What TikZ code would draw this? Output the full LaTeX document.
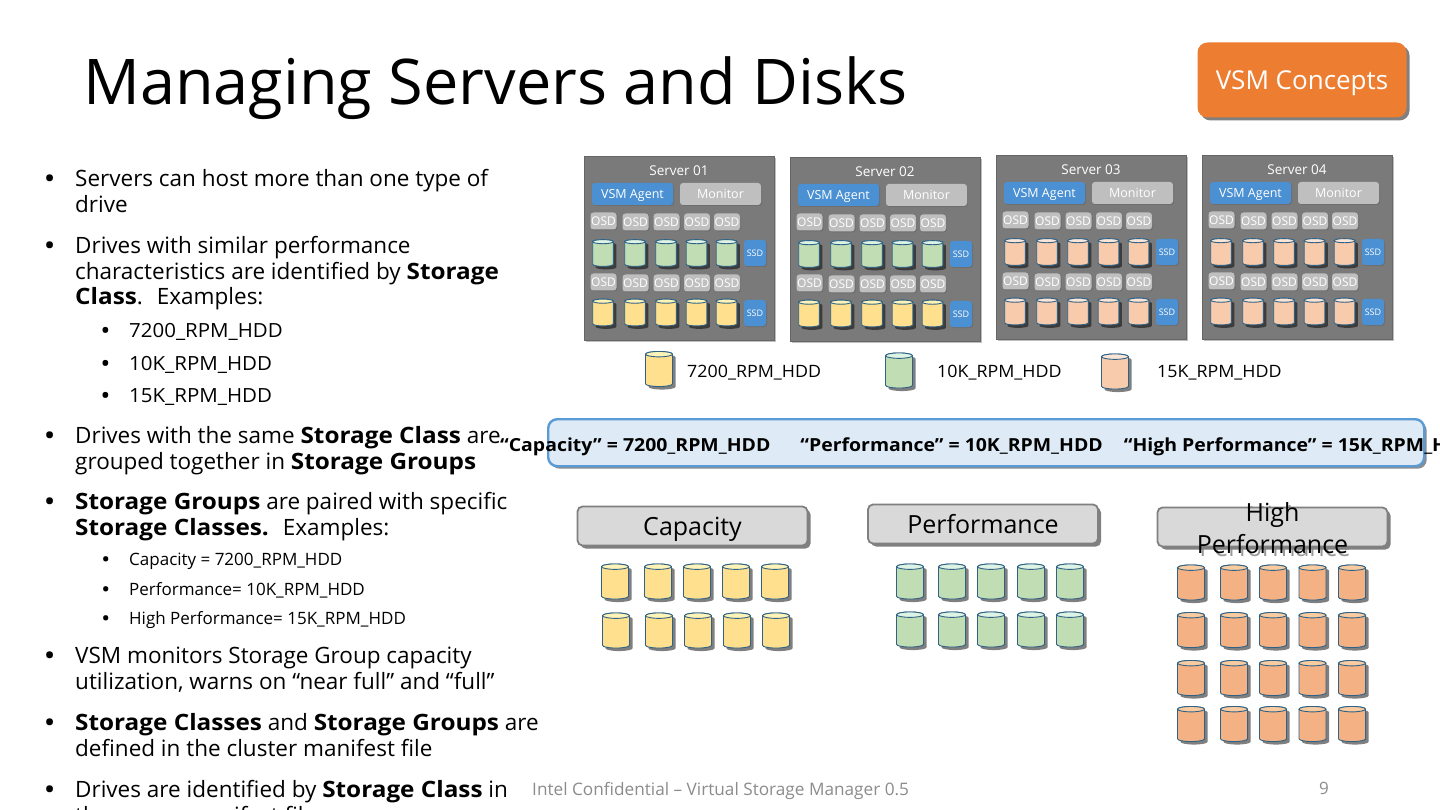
\documentclass[tikz,border=0pt]{standalone}
\usepackage{fontspec}
\setmainfont[BoldFeatures={FakeStretch=1.08}]{Open Sans}
\newfontfamily\codefont[FakeStretch=1.05]{Open Sans}
\usetikzlibrary{shadows}
\definecolor{vsmOrange}{HTML}{ED7D31}
\definecolor{vsmBlue}{HTML}{4A90D2}
\definecolor{vsmServer}{HTML}{7A7A7A}
\definecolor{vsmLight}{HTML}{BFBFBF}
\definecolor{vsmBand}{HTML}{DEEBF7}
\definecolor{vsmEdge}{HTML}{5B9BD5}
\definecolor{vsmLine}{HTML}{2F6286}
\definecolor{vsmFoot}{HTML}{8C8C8C}
\definecolor{hddYellow}{HTML}{FFE08F}
\definecolor{hddYellowTop}{HTML}{FFF4B8}
\definecolor{hddGreen}{HTML}{C0DDB4}
\definecolor{hddGreenTop}{HTML}{DDF3E4}
\definecolor{hddPeach}{HTML}{F8CBAD}
\definecolor{hddPeachTop}{HTML}{FBE5D6}
\definecolor{hddOrange}{HTML}{F4B183}
\definecolor{hddOrangeTop}{HTML}{F8CBA0}
\newcommand{\bul}[1]{\llap{\textbf{\textbullet}\hspace{#1}}}
\newcommand{\hddoutline}{(-\hddw,-\hddb) -- (-\hddw,\hddb)
  arc[start angle=180,end angle=360,x radius=\hddw pt,y radius=\hddr pt] -- (\hddw,-\hddb)
  arc[start angle=0,end angle=180,x radius=\hddw pt,y radius=\hddr pt] -- cycle}
% name, x, y, half width, colour
\newcommand{\hddat}[5]{%
  \def\hddw{#4}%
  \pgfmathsetmacro{\hddr}{#4*.2}%
  \pgfmathsetmacro{\hddb}{#4*1.3-\hddr}%
  \begin{scope}[shift={(#2,#3)}]
    \coordinate (#1) at (0,0);
    \fill[hddshade] \hddoutline;
    \filldraw[hddedge,fill=#5] \hddoutline;
    \filldraw[hddedge,fill=#5Top] (0,-\hddb) ellipse[x radius=\hddw pt,y radius=\hddr pt];
  \end{scope}}
\begin{document}
\begin{tikzpicture}[x=1pt,y=-1pt,
    bigtext/.style={anchor=north west,align=left,inner sep=0pt,font=\fontsize{22.5}{25.8}\selectfont},
    midtext/.style={anchor=north west,align=left,inner sep=0pt,font=\fontsize{19.5}{22}\selectfont\codefont},
    smalltext/.style={anchor=north west,align=left,inner sep=0pt,font=\fontsize{17}{20}\selectfont},
    keytext/.style={anchor=base west,inner sep=0pt,font=\fontsize{17}{20}\selectfont\codefont},
    hddedge/.style={draw=vsmLine,line width=.9pt},
    hddshade/.style={black,opacity=.5,shift={(3,3)}},
    server/.style={fill=vsmServer,draw=black!60,line width=.6pt,anchor=north west,inner sep=0pt,
                 minimum width=190pt,minimum height=184pt,
                 drop shadow={shadow xshift=2pt,shadow yshift=-2pt,fill=black!50,opacity=.5}},
    tag/.style={rounded corners=3pt,text=white,inner sep=0pt,text depth=0pt,font=\fontsize{12.5}{14}\selectfont,
                 drop shadow={shadow xshift=1pt,shadow yshift=-1pt,fill=black!60,opacity=.6}},
    agent/.style={tag,fill=vsmBlue,minimum width=81pt,minimum height=22pt},
    monitor/.style={tag,fill=vsmLight,minimum width=81pt,minimum height=22pt},
    osd/.style={tag,fill=vsmLight,minimum width=26pt,minimum height=17pt,font=\fontsize{12}{13}\selectfont},
    ssd/.style={tag,fill=vsmBlue,minimum width=22pt,minimum height=26pt,font=\fontsize{9}{10}\selectfont},
    group/.style={fill=black!15,draw=black!50,line width=1.8pt,rounded corners=5pt,inner sep=0pt,
                 minimum width=230pt,minimum height=39pt,
                 drop shadow={shadow xshift=3pt,shadow yshift=-3pt,fill=black!50,opacity=1}},
    grouptext/.style={font=\fontsize{25}{32}\selectfont,align=center,inner sep=0pt}]
  \useasboundingbox (0,0) rectangle (1440,810);
  \fill[white] (0,0) rectangle (1440,810);

  % heading
  \node[anchor=base west,inner sep=0pt,font=\fontsize{63}{70}\selectfont] (title) at (83,105) {Managing Servers and Disks};
  \node[fill=vsmOrange,text=white,rounded corners=10pt,inner sep=0pt,text depth=0pt,minimum width=209pt,minimum height=75pt,
        font=\fontsize{26}{28}\selectfont,drop shadow={shadow xshift=3pt,shadow yshift=-3pt,fill=black!50,opacity=1}]
        (concepts) at (1302,80) {VSM Concepts};

  % left column
  \node[bigtext] (b1) at (75,168) {\strut\bul{21pt}Servers can host more than one type of\\\strut drive};
  \node[bigtext] (b2) at (75,235) {\strut\bul{21pt}Drives with similar performance\\\strut characteristics are identified by \textbf{Storage}\\\strut \textbf{Class}.\hspace{14pt}Examples:};
  \node[midtext] (b2a) at (129,322) {\strut\bul{20pt}7200\_RPM\_HDD};
  \node[midtext] (b2b) at (129,355) {\strut\bul{20pt}10K\_RPM\_HDD};
  \node[midtext] (b2c) at (129,387) {\strut\bul{20pt}15K\_RPM\_HDD};
  \node[bigtext] (b3) at (75,425) {\strut\bul{21pt}Drives with the same \textbf{Storage Class} are\\\strut grouped together in \textbf{Storage Groups}};
  \node[bigtext] (b4) at (75,491) {\strut\bul{21pt}\textbf{Storage Groups} are paired with specific\\\strut \textbf{Storage Classes.}\hspace{14pt}Examples:};
  \node[smalltext] (b4a) at (129,551) {\strut\bul{20pt}Capacity = 7200\_RPM\_HDD};
  \node[smalltext] (b4b) at (129,581) {\strut\bul{20pt}Performance= 10K\_RPM\_HDD};
  \node[smalltext] (b4c) at (129,610) {\strut\bul{20pt}High Performance= 15K\_RPM\_HDD};
  \node[bigtext] (b5) at (75,645) {\strut\bul{21pt}VSM monitors Storage Group capacity\\\strut utilization, warns on “near full” and “full”};
  \node[bigtext] (b6) at (75,712) {\strut\bul{21pt}\textbf{Storage Classes} and \textbf{Storage Groups} are\\\strut defined in the cluster manifest file};
  \node[bigtext] (b7) at (75,779) {\strut\bul{21pt}Drives are identified by \textbf{Storage Class} in\\\strut the server manifest file};

  % servers
  \foreach \sname/\sx/\sy/\rowa/\rowb in {01/584/156/hddGreen/hddYellow,02/790/157/hddGreen/hddYellow,03/996/155/hddPeach/hddPeach,04/1202/155/hddPeach/hddPeach}{
    \begin{scope}[shift={(\sx,\sy)}]
      \node[server] (srv\sname) at (0,0) {};
      \node[text=white,inner sep=0pt,font=\fontsize{13.5}{16}\selectfont] (name\sname) at (95,15) {Server \sname};
      \node[agent] (agent\sname) at (48.5,38) {VSM Agent};
      \node[monitor] (mon\sname) at (136.5,38) {Monitor};
      \foreach \dx/\dy [count=\i] in {19.5/-1,51.5/0,82.5/0,113/0,143/0}{
        \node[osd] (osda\sname\i) at (\dx,66+\dy) {OSD};
        \node[osd] (osdb\sname\i) at (\dx,127+\dy) {OSD};
        \hddat{hdda\sname\i}{\dx-.5}{97}{10.3}{\rowa}
        \hddat{hddb\sname\i}{\dx-.5}{156.5}{10.3}{\rowb}
      }
      \node[ssd] (ssda\sname) at (171,97) {SSD};
      \node[ssd] (ssdb\sname) at (171,157) {SSD};
    \end{scope}
  }

  % legend
  \hddat{keyY}{659}{369}{13.5}{hddYellow}
  \node[keytext] (keyYt) at (687,377) {7200\_RPM\_HDD};
  \hddat{keyG}{899}{370.5}{13.5}{hddGreen}
  \node[keytext] (keyGt) at (937,377) {10K\_RPM\_HDD};
  \hddat{keyP}{1115}{371.5}{13.5}{hddPeach}
  \node[keytext] (keyPt) at (1157,377) {15K\_RPM\_HDD};

  % mapping band
  \node[fill=vsmBand,draw=vsmEdge,line width=2.4pt,rounded corners=9pt,inner sep=0pt,anchor=north west,
        minimum width=876pt,minimum height=47pt,
        drop shadow={shadow xshift=2.5pt,shadow yshift=-2.5pt,fill=black!45,opacity=1}] (band) at (547,418) {};
  \node[anchor=base west,inner sep=0pt,font=\fontsize{18}{20}\selectfont\bfseries] (bandtext) at (500,451)
       {“Capacity” = 7200\_RPM\_HDD\hspace{30pt}“Performance” = 10K\_RPM\_HDD\hspace{21pt}“High Performance” = 15K\_RPM\_HDD};

  % storage groups
  \node[grouptext,text=black!40] (ghost) at (1275,531) {High\\Performance};
  \node[group] (capacity) at (692.5,526) {};
  \node[group] (performance) at (983,524) {};
  \node[group] (high) at (1272.5,527) {};
  \node[grouptext,text depth=0pt] (capacityt) at (capacity.center) {Capacity};
  \node[grouptext,text depth=0pt] (performancet) at (performance.center) {Performance};
  \node[grouptext] (hight) at (1272.5,528) {High\\Performance};

  \foreach \dx [count=\i] in {615,658,697,736,775}{
    \hddat{capa\i}{\dx}{581.5}{13.5}{hddYellow}
    \hddat{capb\i}{\dx+1}{630.5}{13.5}{hddYellow}
  }
  \foreach \dx [count=\i] in {910,952,991,1031,1070}{
    \hddat{pera\i}{\dx}{581.5}{13.5}{hddGreen}
    \hddat{perb\i}{\dx}{629.5}{13.5}{hddGreen}
  }
  \foreach \dx [count=\i] in {1191,1234,1273,1312.5,1352}{
    \hddat{higa\i}{\dx}{582.5}{13.5}{hddOrange}
    \hddat{higb\i}{\dx}{630}{13.5}{hddOrange}
    \hddat{higc\i}{\dx}{678}{13.5}{hddOrange}
    \hddat{higd\i}{\dx}{724}{13.5}{hddOrange}
  }

  % footer
  \node[anchor=base west,inner sep=0pt,text=vsmFoot,font=\fontsize{17.2}{20}\selectfont] (foot) at (532,795) {Intel Confidential – Virtual Storage Manager 0.5};
  \node[inner sep=0pt,text=vsmFoot,font=\fontsize{17}{20}\selectfont] (page) at (1324,788) {9};
\end{tikzpicture}
\end{document}
